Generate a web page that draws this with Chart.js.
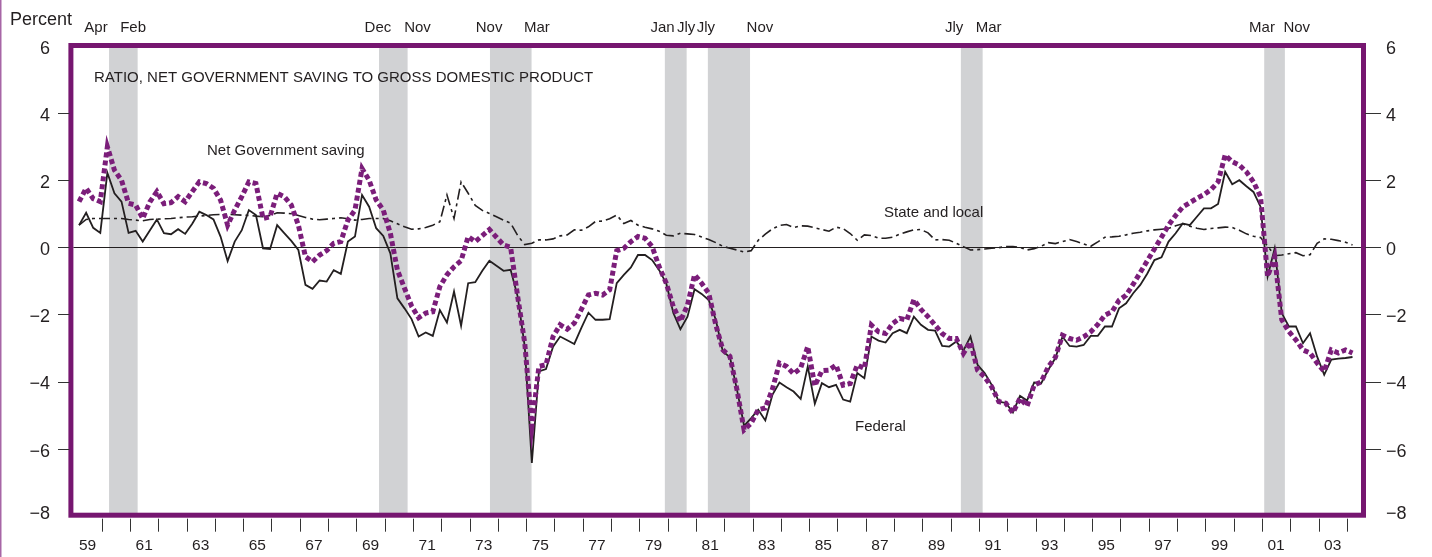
<!DOCTYPE html>
<html>
<head>
<meta charset="utf-8">
<script src="https://cdn.jsdelivr.net/npm/chart.js@4.4.1/dist/chart.umd.min.js"></script>
<style>
  html, body { margin: 0; padding: 0; background: #fff; }
  #wrap { width: 1432px; height: 557px; position: relative; }
</style>
</head>
<body>
<div id="wrap"><canvas id="grafico" width="1432" height="557"></canvas></div>
<script>
// quarterly data, 1959 Q1 .. 2004 Q1, percent of GDP
const firstYear = 1959;

const netGov = [
  1.36, 1.76, 1.45, 1.36,   3.00, 2.30, 2.00, 1.31,   1.26, 0.86, 1.35, 1.66,
  1.30, 1.33, 1.51, 1.36,   1.66, 1.95, 1.90, 1.76,   1.41, 0.66, 1.11, 1.51,
  1.95, 1.90, 0.86, 0.91,   1.61, 1.51, 1.26, 0.66,  -0.28, -0.43, -0.23, -0.10,
  0.12, 0.17, 0.81, 1.11,   2.35, 2.00, 1.41, 1.11,   0.42, -0.68, -1.22, -1.75,
  -2.10, -1.96, -1.92, -1.17,  -0.82, -0.58, -0.40, 0.32,   0.17, 0.35, 0.53, 0.30,
  0.07, 0.00, -1.47, -2.86,  -5.34, -3.55, -3.50, -2.66,  -2.31, -2.44, -2.26, -1.85,
  -1.42, -1.37, -1.42, -1.27,  -0.10, -0.03, 0.17, 0.32,   0.27, 0.02, -0.58, -1.07,
  -1.77, -2.21, -1.72, -0.82,  -1.07, -1.37, -2.31, -3.06,  -3.25, -4.25, -5.44, -5.24,
  -4.84, -4.79, -4.23, -3.45,  -3.55, -3.77, -3.60, -2.96,  -4.13, -3.68, -3.66, -3.51,
  -4.11, -4.06, -3.51, -3.61,  -2.32, -2.52, -2.57, -2.27,  -2.12, -2.17, -1.56, -1.85,
  -2.07, -2.32, -2.57, -2.72,  -2.72, -3.16, -2.82, -3.66,  -3.86, -4.16, -4.60, -4.65,
  -4.93, -4.50, -4.73, -4.11,  -4.01, -3.56, -3.28, -2.62,  -2.72, -2.77, -2.67, -2.52,
  -2.30, -2.02, -1.92, -1.58,  -1.43, -1.10, -0.75, -0.40,  -0.05, 0.30, 0.66, 0.95,
  1.20, 1.33, 1.46, 1.57,   1.72, 1.95, 2.75, 2.55,   2.45, 2.25, 1.95, 1.51,
  -0.87, -0.28, -2.16, -2.51,  -2.76, -3.06, -3.15, -3.45,  -3.70, -3.06, -3.15, -3.06,
  -3.15
];

const federal = [
  0.66, 1.03, 0.58, 0.43,   2.22, 1.61, 1.36, 0.43,   0.49, 0.17, 0.50, 0.83,
  0.42, 0.39, 0.54, 0.40,   0.70, 1.06, 0.96, 0.83,   0.32, -0.41, 0.17, 0.51,
  1.11, 0.96, -0.03, -0.05,  0.66, 0.42, 0.19, -0.08,  -1.12, -1.24, -0.99, -1.02,
  -0.68, -0.79, 0.17, 0.32,  1.56, 1.21, 0.57, 0.34,  -0.18, -1.52, -1.82, -2.14,
  -2.66, -2.54, -2.64, -1.87,  -2.24, -1.32, -2.34, -1.07,  -1.04, -0.70, -0.40, -0.55,
  -0.70, -0.67, -1.47, -2.96,  -6.43, -3.70, -3.63, -2.96,  -2.66, -2.77, -2.88, -2.40,
  -1.95, -2.16, -2.16, -2.14,  -1.07, -0.82, -0.60, -0.23,  -0.23, -0.38, -0.68, -1.07,
  -1.96, -2.44, -2.07, -1.25,  -1.39, -1.57, -2.16, -3.11,  -3.27, -4.25, -5.32, -5.09,
  -4.84, -5.16, -4.40, -4.03,  -4.17, -4.30, -4.52, -3.55,  -4.66, -4.05, -4.17, -4.10,
  -4.54, -4.60, -3.75, -3.90,  -2.66, -2.78, -2.84, -2.56,  -2.46, -2.56, -2.07, -2.31,
  -2.46, -2.48, -2.94, -2.96,  -2.81, -3.08, -2.66, -3.50,  -3.75, -4.10, -4.60, -4.64,
  -4.92, -4.43, -4.57, -4.03,  -4.05, -3.65, -3.30, -2.66,  -2.94, -2.96, -2.91, -2.64,
  -2.64, -2.36, -2.36, -1.82,  -1.67, -1.37, -1.12, -0.78,  -0.38, -0.30, 0.17, 0.42,
  0.71, 0.66, 0.91, 1.16,   1.16, 1.29, 2.25, 1.88,   2.00, 1.82, 1.65, 1.21,
  -0.87, -0.03, -1.96, -2.36,  -2.36, -2.86, -2.56, -3.26,  -3.80, -3.35, -3.32, -3.30,
  -3.27
];

const stateLocal = [
  0.66, 0.83, 0.86, 0.86,   0.86, 0.86, 0.86, 0.83,   0.81, 0.79, 0.83, 0.84,
  0.85, 0.86, 0.88, 0.90,   0.91, 0.93, 0.95, 0.97,   0.98, 0.98, 0.97, 0.96,
  0.95, 0.93, 0.91, 0.95,   1.03, 1.02, 1.00, 0.95,   0.89, 0.84, 0.82, 0.84,
  0.86, 0.88, 0.85, 0.81,   0.83, 0.86, 0.86, 0.86,   0.79, 0.70, 0.61, 0.54,
  0.55, 0.59, 0.66, 0.76,   1.56, 0.86, 1.95, 1.61,   1.25, 1.10, 1.01, 0.91,
  0.81, 0.72, 0.35, 0.08,   0.12, 0.22, 0.22, 0.25,   0.34, 0.37, 0.52, 0.51,
  0.61, 0.77, 0.78, 0.85,   0.96, 0.71, 0.80, 0.66,   0.60, 0.55, 0.48, 0.36,
  0.34, 0.42, 0.40, 0.38,   0.31, 0.23, 0.14, 0.03,  -0.03, -0.08, -0.14, -0.10,
  0.21, 0.39, 0.55, 0.65,   0.68, 0.59, 0.64, 0.63,   0.58, 0.53, 0.48, 0.60,
  0.56, 0.41, 0.21, 0.37,   0.35, 0.27, 0.27, 0.30,   0.39, 0.46, 0.52, 0.53,
  0.43, 0.22, 0.23, 0.21,   0.12, 0.02, -0.08, -0.07,  -0.05, -0.03, -0.01, 0.02,
  0.02, 0.00, -0.08, -0.04,  0.03, 0.14, 0.11, 0.17,   0.23, 0.17, 0.10, 0.03,
  0.16, 0.30, 0.31, 0.33,   0.37, 0.42, 0.45, 0.49,   0.52, 0.54, 0.56, 0.64,
  0.70, 0.63, 0.57, 0.53,   0.56, 0.58, 0.60, 0.59,   0.51, 0.40, 0.33, 0.29,
  0.04, -0.25, -0.23, -0.19,  -0.16, -0.25, -0.22, 0.12,   0.25, 0.24, 0.20, 0.15,
  0.07
];

// recessions (decimal years) and their month labels
const recStart = [1960.26, 1969.80, 1973.72, 1979.90, 1981.42, 1990.36, 2001.08];
const recEnd   = [1961.27, 1970.81, 1975.19, 1980.67, 1982.91, 1991.13, 2001.81];
const peakMonth   = ['Apr', 'Dec', 'Nov', 'Jan', 'Jly', 'Jly', 'Mar'];
const troughMonth = ['Feb', 'Nov', 'Mar', 'Jly', 'Nov', 'Mar', 'Nov'];
// where the month labels sit along the axis (decimal years)
const peakLabelAt   = [1959.80, 1969.76, 1973.69, 1979.82, 1981.35, 1990.12, 2001.00];
const troughLabelAt = [1961.11, 1971.16, 1975.38, 1980.65, 1983.26, 1991.34, 2002.23];

const yTicks = [6, 4, 2, 0, -2, -4, -6, -8];
const tickYears = [];
for (let a = 1960; a <= 2004; a++) tickYears.push(a);
const labelYears = [];
for (let a = 1959; a <= 2003; a += 2) labelYears.push(a);

const quarterLabels = federal.map((v, i) => (firstYear + Math.floor(i / 4)) + 'Q' + (i % 4 + 1));
const pos = (i) => firstYear + i / 4 + 0.2;
const serie = (arr) => arr.map((v, i) => ({ x: pos(i), y: v }));

const FONT = '"Liberation Sans", Arial, Helvetica, sans-serif';
const TXT = '#231f20';
const PURPLE = '#761670';

const marco = {
  id: 'marco',
  beforeDatasetsDraw(chart) {
    const { ctx, chartArea: ca, scales: { x, y } } = chart;
    ctx.save();
    // page edge
    ctx.fillStyle = '#a766a6';
    ctx.fillRect(0, 0, 1.5, chart.height);
    // recession shading
    ctx.fillStyle = '#d1d2d4';
    for (let i = 0; i < recStart.length; i++) {
      const a = x.getPixelForValue(recStart[i]);
      const b = x.getPixelForValue(recEnd[i]);
      ctx.fillRect(a, ca.top, b - a, ca.height);
    }
    // zero line
    const y0 = Math.round(y.getPixelForValue(0)) + 0.5;
    ctx.strokeStyle = TXT;
    ctx.lineWidth = 1;
    ctx.beginPath();
    ctx.moveTo(ca.left, y0);
    ctx.lineTo(ca.right, y0);
    ctx.stroke();
    ctx.restore();
  },
  afterDatasetsDraw(chart) {
    const { ctx, chartArea: ca, scales: { x, y } } = chart;
    ctx.save();
    // frame
    ctx.strokeStyle = PURPLE;
    ctx.lineWidth = 5;
    ctx.strokeRect(ca.left - 2.5, ca.top - 0.5, ca.width + 5, ca.height);

    ctx.fillStyle = TXT;
    ctx.strokeStyle = '#333';
    ctx.lineWidth = 1;

    // y ticks both sides
    ctx.font = '18px ' + FONT;
    ctx.textBaseline = 'middle';
    yTicks.forEach((t) => {
      const py = y.getPixelForValue(t);
      const txt = t < 0 ? '\u2212' + Math.abs(t) : String(t);
      const off = t === -8 ? -2 : 3;
      if (t !== 6 && t !== -8) {
        ctx.beginPath();
        ctx.moveTo(58, Math.round(py) + 0.5);
        ctx.lineTo(ca.left - 4, Math.round(py) + 0.5);
        ctx.moveTo(ca.right + 4, Math.round(py) + 0.5);
        ctx.lineTo(1381, Math.round(py) + 0.5);
        ctx.stroke();
      }
      ctx.textAlign = 'right';
      ctx.fillText(txt, 50, py + off);
      ctx.textAlign = 'left';
      ctx.fillText(txt, 1386, py + off);
    });

    // x ticks and year labels
    tickYears.forEach((a) => {
      const px = Math.round(x.getPixelForValue(a)) + 0.5;
      ctx.beginPath();
      ctx.moveTo(px, ca.bottom + 3);
      ctx.lineTo(px, ca.bottom + 16);
      ctx.stroke();
    });
    ctx.font = '15.5px ' + FONT;
    ctx.textAlign = 'center';
    labelYears.forEach((a) => {
      const txt = String(a % 100).padStart(2, '0');
      ctx.fillText(txt, x.getPixelForValue(a + 0.5), 546);
    });

    // recession month labels
    ctx.font = '15px ' + FONT;
    for (let i = 0; i < peakMonth.length; i++) {
      ctx.fillText(peakMonth[i], x.getPixelForValue(peakLabelAt[i]), 28);
      ctx.fillText(troughMonth[i], x.getPixelForValue(troughLabelAt[i]), 28);
    }

    // texts
    ctx.textAlign = 'left';
    ctx.font = '18px ' + FONT;
    ctx.fillText('Percent', 10, 20);
    ctx.font = '15px ' + FONT;
    ctx.fillText('RATIO, NET GOVERNMENT SAVING TO GROSS DOMESTIC PRODUCT', 94, 78);
    ctx.fillText('Net Government saving', 207, 151);
    ctx.fillText('State and local', 884, 213);
    ctx.fillText('Federal', 855, 427);
    ctx.restore();
  }
};

new Chart(document.getElementById('grafico'), {
  type: 'line',
  data: {
    labels: quarterLabels,
    datasets: [
      {
        label: 'Net Government saving',
        data: serie(netGov),
        borderColor: '#7b1e7a',
        borderWidth: 5,
        borderDash: [5, 3],
        borderCapStyle: 'butt',
        pointRadius: 0,
        tension: 0
      },
      {
        label: 'Federal',
        data: serie(federal),
        borderColor: TXT,
        borderWidth: 1.8,
        pointRadius: 0,
        tension: 0
      },
      {
        label: 'State and local',
        data: serie(stateLocal),
        borderColor: TXT,
        borderWidth: 1.6,
        borderDash: [11, 4, 3, 4],
        pointRadius: 0,
        tension: 0
      }
    ]
  },
  options: {
    responsive: false,
    devicePixelRatio: 1,
    animation: false,
    layout: { padding: { left: 73.4, right: 71, top: 46, bottom: 41.3 } },
    plugins: { legend: { display: false }, tooltip: { enabled: false }, title: { display: false } },
    scales: {
      x: { type: 'linear', min: 1959, max: 2004.5, display: false },
      y: { min: -8, max: 6, display: false }
    }
  },
  plugins: [marco]
});
</script>
</body>
</html>
